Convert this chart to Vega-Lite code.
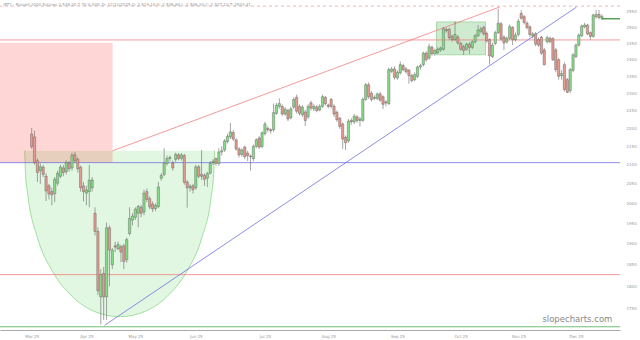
{
"$schema":"https://vega.github.io/schema/vega-lite/v6.json",
"width":620,"height":330,
"autosize":{"type":"none"},
"padding":{"left":0,"top":0,"right":20,"bottom":10},
"background":"white",
"title":{"text":"/RTY - Russell 2000 Futures 2,538.20 7.70 0.30% D: 12/12/2025 O: 2,519.10 H: 2,538.60 L: 2,506.30 C: 2,527.10 T: 2503.41","anchor":"start","frame":"group","offset":-7,"dx":3,"fontSize":4,"fontWeight":"normal","color":"#999","font":"DejaVu Sans"},
"config":{"view":{"stroke":null},"font":"DejaVu Sans","axis":{"title":null,"grid":false}},
"datasets":{
"candles":[
{"i":0,"o":2184,"h":2201,"l":2143,"c":2149},{"i":1,"o":2176,"h":2193,"l":2101,"c":2106},{"i":2,"o":2111,"h":2117,"l":2055,"c":2080},{"i":3,"o":2085,"h":2104,"l":2050,"c":2095},{"i":4,"o":2094,"h":2100,"l":2068,"c":2075},{"i":5,"o":2070,"h":2078,"l":2006,"c":2032},{"i":6,"o":2045,"h":2050,"l":2010,"c":2024},{"i":7,"o":2030,"h":2040,"l":1995,"c":2022},{"i":8,"o":2025,"h":2068,"l":2003,"c":2062},{"i":9,"o":2052,"h":2085,"l":2045,"c":2078},
{"i":10,"o":2070,"h":2100,"l":2065,"c":2094},{"i":11,"o":2092,"h":2100,"l":2070,"c":2080},{"i":12,"o":2082,"h":2112,"l":2075,"c":2106},{"i":13,"o":2105,"h":2110,"l":2082,"c":2090},{"i":14,"o":2092,"h":2133,"l":2085,"c":2126},{"i":15,"o":2127,"h":2135,"l":2105,"c":2112},{"i":16,"o":2115,"h":2120,"l":2080,"c":2090},{"i":17,"o":2094,"h":2098,"l":2030,"c":2040},{"i":18,"o":2045,"h":2055,"l":2005,"c":2030},{"i":19,"o":2026,"h":2045,"l":1995,"c":2034},
{"i":20,"o":2030,"h":2100,"l":1990,"c":2060},{"i":21,"o":2040,"h":2068,"l":2030,"c":2060},{"i":22,"o":1975,"h":1990,"l":1920,"c":1930},{"i":23,"o":1930,"h":1940,"l":1780,"c":1790},{"i":24,"o":1776,"h":1840,"l":1715,"c":1827},{"i":25,"o":1830,"h":1845,"l":1725,"c":1776},{"i":26,"o":1776,"h":1952,"l":1725,"c":1939},{"i":27,"o":1939,"h":1945,"l":1800,"c":1885},{"i":28,"o":1850,"h":1890,"l":1840,"c":1885},{"i":29,"o":1895,"h":1905,"l":1880,"c":1892},
{"i":30,"o":1888,"h":1905,"l":1885,"c":1898},{"i":31,"o":1893,"h":1898,"l":1856,"c":1880},{"i":32,"o":1895,"h":1900,"l":1840,"c":1858},{"i":33,"o":1862,"h":1915,"l":1855,"c":1910},{"i":34,"o":1925,"h":1990,"l":1920,"c":1962},{"i":35,"o":1958,"h":1975,"l":1945,"c":1968},{"i":36,"o":1965,"h":1990,"l":1958,"c":1985},{"i":37,"o":1975,"h":1996,"l":1940,"c":1992},{"i":38,"o":1990,"h":1996,"l":1965,"c":1975},{"i":39,"o":1978,"h":2035,"l":1970,"c":2026},
{"i":40,"o":2030,"h":2038,"l":2003,"c":2010},{"i":41,"o":2012,"h":2018,"l":1985,"c":1991},{"i":42,"o":1998,"h":2005,"l":1978,"c":1986},{"i":43,"o":1987,"h":2000,"l":1980,"c":1995},{"i":44,"o":1992,"h":2055,"l":1988,"c":2042},{"i":45,"o":2065,"h":2078,"l":2058,"c":2072},{"i":46,"o":2075,"h":2145,"l":2070,"c":2104},{"i":47,"o":2104,"h":2125,"l":2098,"c":2117},{"i":48,"o":2117,"h":2125,"l":2110,"c":2120},{"i":49,"o":2105,"h":2112,"l":2085,"c":2092},
{"i":50,"o":2115,"h":2133,"l":2108,"c":2128},{"i":51,"o":2127,"h":2132,"l":2112,"c":2117},{"i":52,"o":2118,"h":2132,"l":2112,"c":2127},{"i":53,"o":2125,"h":2130,"l":2048,"c":2054},{"i":54,"o":2055,"h":2060,"l":1989,"c":2040},{"i":55,"o":2040,"h":2050,"l":2030,"c":2044},{"i":56,"o":2045,"h":2050,"l":2025,"c":2035},{"i":57,"o":2040,"h":2100,"l":2035,"c":2095},{"i":58,"o":2095,"h":2100,"l":2065,"c":2070},{"i":59,"o":2075,"h":2140,"l":2060,"c":2070},
{"i":60,"o":2072,"h":2078,"l":2045,"c":2062},{"i":61,"o":2065,"h":2082,"l":2042,"c":2077},{"i":62,"o":2078,"h":2110,"l":2075,"c":2104},{"i":63,"o":2106,"h":2115,"l":2100,"c":2110},{"i":64,"o":2117,"h":2120,"l":2098,"c":2104},{"i":65,"o":2104,"h":2145,"l":2098,"c":2135},{"i":66,"o":2135,"h":2150,"l":2125,"c":2138},{"i":67,"o":2140,"h":2170,"l":2135,"c":2165},{"i":68,"o":2163,"h":2185,"l":2158,"c":2178},{"i":69,"o":2176,"h":2215,"l":2170,"c":2190},
{"i":70,"o":2188,"h":2195,"l":2165,"c":2170},{"i":71,"o":2168,"h":2172,"l":2138,"c":2143},{"i":72,"o":2143,"h":2148,"l":2120,"c":2127},{"i":73,"o":2128,"h":2145,"l":2122,"c":2140},{"i":74,"o":2148,"h":2152,"l":2115,"c":2122},{"i":75,"o":2132,"h":2138,"l":2110,"c":2125},{"i":76,"o":2124,"h":2128,"l":2085,"c":2122},{"i":77,"o":2117,"h":2155,"l":2110,"c":2150},{"i":78,"o":2150,"h":2172,"l":2145,"c":2168},{"i":79,"o":2173,"h":2178,"l":2143,"c":2148},
{"i":80,"o":2150,"h":2192,"l":2145,"c":2187},{"i":81,"o":2185,"h":2218,"l":2180,"c":2212},{"i":82,"o":2200,"h":2205,"l":2190,"c":2196},{"i":83,"o":2196,"h":2200,"l":2185,"c":2193},{"i":84,"o":2196,"h":2270,"l":2190,"c":2244},{"i":85,"o":2242,"h":2272,"l":2238,"c":2265},{"i":86,"o":2262,"h":2285,"l":2255,"c":2270},{"i":87,"o":2262,"h":2268,"l":2235,"c":2240},{"i":88,"o":2240,"h":2260,"l":2235,"c":2254},{"i":89,"o":2250,"h":2255,"l":2220,"c":2226},
{"i":90,"o":2230,"h":2260,"l":2225,"c":2255},{"i":91,"o":2260,"h":2288,"l":2255,"c":2282},{"i":92,"o":2288,"h":2296,"l":2242,"c":2248},{"i":93,"o":2262,"h":2268,"l":2236,"c":2242},{"i":94,"o":2238,"h":2266,"l":2232,"c":2260},{"i":95,"o":2246,"h":2252,"l":2206,"c":2222},{"i":96,"o":2232,"h":2268,"l":2226,"c":2262},{"i":97,"o":2272,"h":2278,"l":2250,"c":2257},{"i":98,"o":2255,"h":2268,"l":2248,"c":2262},{"i":99,"o":2260,"h":2266,"l":2245,"c":2250},
{"i":100,"o":2252,"h":2268,"l":2248,"c":2262},{"i":101,"o":2262,"h":2296,"l":2258,"c":2290},{"i":102,"o":2288,"h":2292,"l":2265,"c":2270},{"i":103,"o":2266,"h":2270,"l":2256,"c":2262},{"i":104,"o":2282,"h":2286,"l":2256,"c":2262},{"i":105,"o":2262,"h":2268,"l":2232,"c":2240},{"i":106,"o":2245,"h":2250,"l":2218,"c":2224},{"i":107,"o":2228,"h":2232,"l":2198,"c":2205},{"i":108,"o":2212,"h":2216,"l":2143,"c":2170},{"i":109,"o":2175,"h":2180,"l":2140,"c":2160},
{"i":110,"o":2165,"h":2226,"l":2160,"c":2220},{"i":111,"o":2222,"h":2228,"l":2210,"c":2218},{"i":112,"o":2218,"h":2240,"l":2212,"c":2234},{"i":113,"o":2232,"h":2238,"l":2215,"c":2222},{"i":114,"o":2222,"h":2232,"l":2205,"c":2226},{"i":115,"o":2222,"h":2288,"l":2218,"c":2282},{"i":116,"o":2282,"h":2330,"l":2278,"c":2325},{"i":117,"o":2325,"h":2332,"l":2284,"c":2290},{"i":118,"o":2300,"h":2306,"l":2276,"c":2282},{"i":119,"o":2285,"h":2294,"l":2280,"c":2288},
{"i":120,"o":2285,"h":2302,"l":2280,"c":2298},{"i":121,"o":2298,"h":2304,"l":2275,"c":2280},{"i":122,"o":2290,"h":2294,"l":2254,"c":2268},{"i":123,"o":2275,"h":2280,"l":2262,"c":2272},{"i":124,"o":2270,"h":2376,"l":2266,"c":2370},{"i":125,"o":2365,"h":2378,"l":2360,"c":2372},{"i":126,"o":2372,"h":2380,"l":2340,"c":2347},{"i":127,"o":2345,"h":2368,"l":2340,"c":2362},{"i":128,"o":2360,"h":2395,"l":2355,"c":2385},{"i":129,"o":2382,"h":2388,"l":2365,"c":2370},
{"i":130,"o":2372,"h":2378,"l":2358,"c":2364},{"i":131,"o":2368,"h":2372,"l":2328,"c":2352},{"i":132,"o":2352,"h":2358,"l":2332,"c":2337},{"i":133,"o":2340,"h":2362,"l":2335,"c":2355},{"i":134,"o":2350,"h":2382,"l":2345,"c":2378},{"i":135,"o":2378,"h":2388,"l":2370,"c":2382},{"i":136,"o":2385,"h":2425,"l":2380,"c":2420},{"i":137,"o":2420,"h":2426,"l":2394,"c":2400},{"i":138,"o":2405,"h":2450,"l":2400,"c":2440},{"i":139,"o":2438,"h":2444,"l":2412,"c":2418},
{"i":140,"o":2418,"h":2434,"l":2412,"c":2428},{"i":141,"o":2422,"h":2438,"l":2418,"c":2432},{"i":142,"o":2430,"h":2440,"l":2424,"c":2436},{"i":143,"o":2432,"h":2502,"l":2428,"c":2496},{"i":144,"o":2494,"h":2500,"l":2484,"c":2490},{"i":145,"o":2494,"h":2500,"l":2462,"c":2468},{"i":146,"o":2472,"h":2478,"l":2456,"c":2462},{"i":147,"o":2462,"h":2520,"l":2458,"c":2478},{"i":148,"o":2470,"h":2476,"l":2446,"c":2452},{"i":149,"o":2450,"h":2455,"l":2428,"c":2432},
{"i":150,"o":2440,"h":2446,"l":2415,"c":2428},{"i":151,"o":2432,"h":2452,"l":2428,"c":2448},{"i":152,"o":2448,"h":2454,"l":2418,"c":2438},{"i":153,"o":2438,"h":2460,"l":2432,"c":2455},{"i":154,"o":2455,"h":2480,"l":2450,"c":2474},{"i":155,"o":2474,"h":2508,"l":2470,"c":2492},{"i":156,"o":2488,"h":2502,"l":2482,"c":2496},{"i":157,"o":2500,"h":2506,"l":2475,"c":2480},{"i":158,"o":2482,"h":2488,"l":2452,"c":2458},{"i":159,"o":2462,"h":2466,"l":2385,"c":2412},
{"i":160,"o":2410,"h":2452,"l":2405,"c":2445},{"i":161,"o":2450,"h":2490,"l":2445,"c":2484},{"i":162,"o":2484,"h":2560,"l":2480,"c":2514},{"i":163,"o":2512,"h":2518,"l":2458,"c":2464},{"i":164,"o":2470,"h":2476,"l":2430,"c":2452},{"i":165,"o":2455,"h":2472,"l":2450,"c":2466},{"i":166,"o":2466,"h":2510,"l":2462,"c":2503},{"i":167,"o":2500,"h":2505,"l":2445,"c":2462},{"i":168,"o":2462,"h":2484,"l":2456,"c":2476},{"i":169,"o":2478,"h":2528,"l":2472,"c":2520},
{"i":170,"o":2545,"h":2556,"l":2525,"c":2530},{"i":171,"o":2535,"h":2540,"l":2510,"c":2516},{"i":172,"o":2514,"h":2520,"l":2494,"c":2500},{"i":173,"o":2502,"h":2508,"l":2470,"c":2478},{"i":174,"o":2474,"h":2486,"l":2466,"c":2480},{"i":175,"o":2480,"h":2486,"l":2442,"c":2448},{"i":176,"o":2462,"h":2468,"l":2440,"c":2445},{"i":177,"o":2470,"h":2474,"l":2415,"c":2420},{"i":178,"o":2430,"h":2436,"l":2383,"c":2385},{"i":179,"o":2455,"h":2474,"l":2450,"c":2468},
{"i":180,"o":2466,"h":2472,"l":2450,"c":2456},{"i":181,"o":2465,"h":2470,"l":2396,"c":2400},{"i":182,"o":2430,"h":2436,"l":2362,"c":2370},{"i":183,"o":2400,"h":2405,"l":2340,"c":2350},{"i":184,"o":2352,"h":2368,"l":2340,"c":2358},{"i":185,"o":2385,"h":2392,"l":2305,"c":2311},{"i":186,"o":2340,"h":2345,"l":2300,"c":2303},{"i":187,"o":2308,"h":2375,"l":2300,"c":2370},{"i":188,"o":2368,"h":2420,"l":2362,"c":2415},{"i":189,"o":2410,"h":2450,"l":2405,"c":2445},
{"i":190,"o":2445,"h":2482,"l":2440,"c":2476},{"i":191,"o":2474,"h":2510,"l":2470,"c":2505},{"i":192,"o":2502,"h":2515,"l":2498,"c":2508},{"i":193,"o":2508,"h":2512,"l":2476,"c":2480},{"i":194,"o":2484,"h":2488,"l":2462,"c":2472},{"i":195,"o":2472,"h":2545,"l":2468,"c":2540},{"i":196,"o":2535,"h":2556,"l":2528,"c":2542},{"i":197,"o":2542,"h":2556,"l":2526,"c":2532},{"i":198,"o":2530,"h":2542,"l":2524,"c":2536}
],
"cup":[{"i":-2.4,"v":2138},{"i":-2.15,"v":2078},{"i":-1.3,"v":2020},{"i":2.0,"v":1915},{"i":7.2,"v":1835},{"i":14.1,"v":1777},{"i":22.0,"v":1743},{"i":30.6,"v":1732},{"i":39.1,"v":1743},{"i":47.0,"v":1777},{"i":53.9,"v":1835},{"i":59.1,"v":1915},{"i":62.4,"v":2020},{"i":63.2,"v":2078},{"i":63.5,"v":2138}],
"levels":[{"v":2106,"k":"blue"},{"v":2461,"k":"red"},{"v":1827,"k":"red"},{"v":2569,"k":"dash"},{"v":1710,"k":"green"}],
"trends":[{"g":"red","i":28.1,"v":2138},{"g":"red","i":162.5,"v":2566},{"g":"blue","i":25.3,"v":1713},{"g":"blue","i":189.2,"v":2566}]
},
"layer":[
{"data":{"name":"cup"},"mark":{"type":"area","interpolate":"monotone","fill":"#3cc83c","opacity":0.15},
 "encoding":{"x":{"field":"i","type":"quantitative","scale":{"domain":[-11,204.3],"nice":false,"zero":false,"padding":0},"axis":{"values":[0,19,36,57,81,103,127,149,169,189],"labelExpr":"['Mar 25','Apr 25','May 25','Jun 25','Jul 25','Aug 25','Sep 25','Oct 25','Nov 25','Dec 25'][indexof([0,19,36,57,81,103,127,149,169,189],datum.value)]","labelFontSize":4,"labelColor":"#999","ticks":false,"domainColor":"#aaa","domainWidth":1,"labelPadding":4}},
  "y":{"field":"v","type":"quantitative","scale":{"type":"log","domain":[1703,2589],"nice":false,"zero":false,"padding":0},"axis":{"orient":"right","values":[1750,1800,1850,1900,1950,2000,2050,2100,2150,2200,2250,2300,2350,2400,2450,2500,2550],"format":"d","labelFontSize":4,"labelColor":"#999","ticks":false,"domain":false,"labelPadding":6}},
  "y2":{"datum":2138}}},
{"data":{"name":"cup"},"mark":{"type":"line","interpolate":"monotone","stroke":"#8ad88a","strokeWidth":0.8},
 "encoding":{"x":{"field":"i","type":"quantitative"},"y":{"field":"v","type":"quantitative"}}},
{"data":{"values":[{"a":-11,"b":28.1,"lo":2106,"hi":2452}]},"mark":{"type":"rect","fill":"#ff3030","opacity":0.2},
 "encoding":{"x":{"field":"a","type":"quantitative"},"x2":{"field":"b"},"y":{"field":"lo","type":"quantitative"},"y2":{"field":"hi"}}},
{"data":{"values":[{"a":140.6,"b":157.6,"lo":2415,"hi":2518}]},"mark":{"type":"rect","fill":"#3cb043","fillOpacity":0.25,"stroke":"#7cc87c","strokeWidth":0.6},
 "encoding":{"x":{"field":"a","type":"quantitative"},"x2":{"field":"b"},"y":{"field":"lo","type":"quantitative"},"y2":{"field":"hi"}}},
{"data":{"name":"levels"},"mark":{"type":"rule","strokeWidth":0.8},
 "encoding":{"y":{"field":"v","type":"quantitative"},
  "color":{"field":"k","type":"nominal","scale":{"domain":["blue","red","dash","green"],"range":["#7070e0","#f08080","#f0a0a0","#4caf50"]},"legend":null},
  "strokeDash":{"condition":{"test":"datum.k==='dash'","value":[3,3]},"value":[1,0]}}},
{"data":{"name":"trends"},"mark":{"type":"line","strokeWidth":0.8},
 "encoding":{"x":{"field":"i","type":"quantitative"},"y":{"field":"v","type":"quantitative"},"detail":{"field":"g"},
  "color":{"field":"g","type":"nominal","scale":{"domain":["blue","red","dash","green"],"range":["#7070e0","#f08080","#f0a0a0","#4caf50"]},"legend":null}}},
{"data":{"name":"candles"},"mark":{"type":"rule","stroke":"#666","strokeWidth":0.6},
 "encoding":{"x":{"field":"i","type":"quantitative"},"y":{"field":"l","type":"quantitative"},"y2":{"field":"h"}}},
{"data":{"name":"candles"},"mark":{"type":"bar","size":2.3,"stroke":"#555","strokeWidth":0.4},
 "encoding":{"x":{"field":"i","type":"quantitative"},"y":{"field":"o","type":"quantitative"},"y2":{"field":"c"},
  "fill":{"condition":{"test":"datum.c >= datum.o","value":"#86dc86"},"value":"#e39a90"}}},
{"data":{"values":[{"a":198,"b":204.3,"v":2528}]},"mark":{"type":"rule","stroke":"#2e8b2e","strokeWidth":1.2},
 "encoding":{"x":{"field":"a","type":"quantitative"},"x2":{"field":"b"},"y":{"field":"v","type":"quantitative"}}},
{"data":{"values":[{"t":"slopecharts.com"}]},"mark":{"type":"text","fontSize":8.5,"fill":"#888","font":"DejaVu Sans"},
 "encoding":{"x":{"datum":189.5},"y":{"datum":1727},"text":{"field":"t"}}}
]
}
